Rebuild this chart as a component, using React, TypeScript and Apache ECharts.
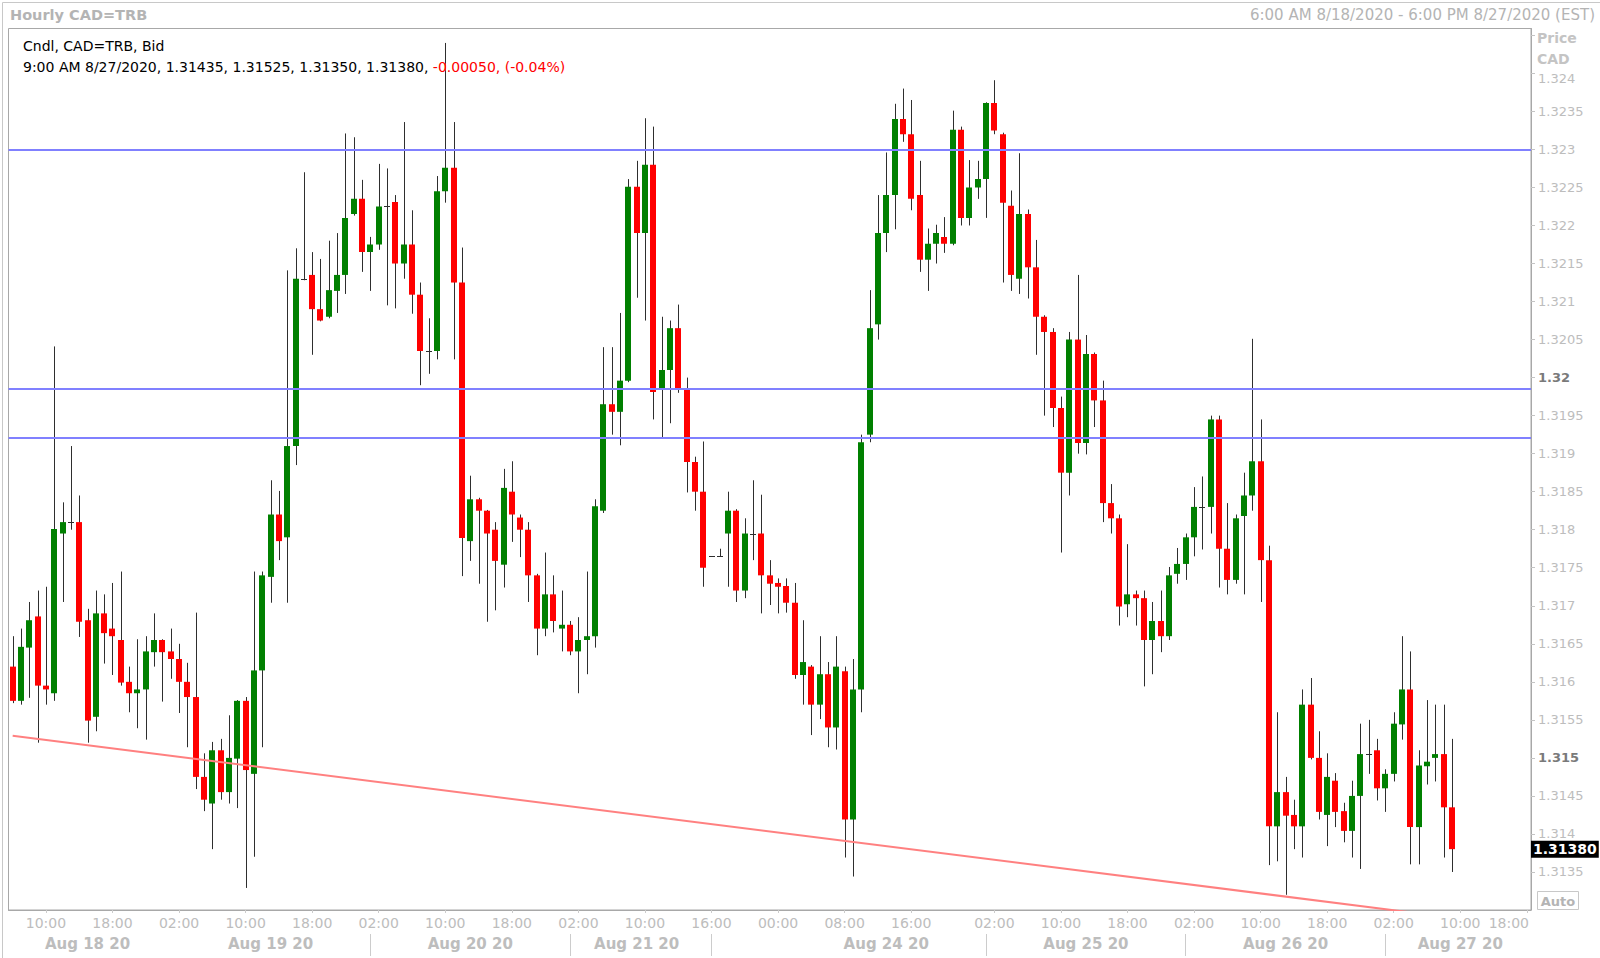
import React, { useEffect, useRef } from "react";
import * as echarts from "echarts";

// ---- data (hourly OHLC, CAD=TRB bid) ----
const opens = [
  1.31620, 1.31575, 1.31645, 1.31686, 1.31595, 1.31585, 1.31795, 1.31810, 1.31810, 1.31681,
  1.31554, 1.31690, 1.31670, 1.31655, 1.31600, 1.31585, 1.31590, 1.31639, 1.31655, 1.31640,
  1.31630, 1.31600, 1.31580, 1.31475, 1.31440, 1.31510, 1.31455, 1.31499, 1.31575, 1.31479,
  1.31615, 1.31738, 1.31820, 1.31790, 1.31910, 1.32130, 1.32135, 1.32090, 1.32080, 1.32114,
  1.32135, 1.32215, 1.32235, 1.32165, 1.32175, 1.32225, 1.32231, 1.32150, 1.32175, 1.32109,
  1.32035, 1.32035, 1.32245, 1.32276, 1.32125, 1.31785, 1.31840, 1.31825, 1.31800, 1.31754,
  1.31850, 1.31816, 1.31800, 1.31740, 1.31670, 1.31715, 1.31670, 1.31675, 1.31640, 1.31655,
  1.31660, 1.31825, 1.31965, 1.31955, 1.31996, 1.32251, 1.32190, 1.32280, 1.31985, 1.32010,
  1.32065, 1.31984, 1.31889, 1.31850, 1.31765, 1.31765, 1.31795, 1.31825, 1.31720, 1.31795,
  1.31795, 1.31740, 1.31730, 1.31726, 1.31704, 1.31609, 1.31620, 1.31570, 1.31610, 1.31540,
  1.31614, 1.31419, 1.31590, 1.31925, 1.32070, 1.32190, 1.32240, 1.32340, 1.32320, 1.32240,
  1.32155, 1.32176, 1.32185, 1.32176, 1.32326, 1.32210, 1.32250, 1.32261, 1.32361, 1.32320,
  1.32226, 1.32130, 1.32215, 1.32145, 1.32080, 1.32060, 1.31960, 1.31875, 1.32050, 1.31914,
  1.32031, 1.31970, 1.31835, 1.31815, 1.31702, 1.31715, 1.31710, 1.31655, 1.31680, 1.31660,
  1.31742, 1.31755, 1.31790, 1.31830, 1.31830, 1.31945, 1.31775, 1.31734, 1.31818, 1.31845,
  1.31890, 1.31760, 1.31410, 1.31455, 1.31425, 1.31410, 1.31570, 1.31500, 1.31425, 1.31470,
  1.31430, 1.31404, 1.31450, 1.31505, 1.31510, 1.31460, 1.31479, 1.31544, 1.31590, 1.31409,
  1.31489, 1.31500, 1.31505, 1.31435,
];
const highs = [
  1.31660, 1.31670, 1.31705, 1.31720, 1.31725, 1.32041, 1.31836, 1.31910, 1.31845, 1.31696,
  1.31720, 1.31715, 1.31730, 1.31745, 1.31620, 1.31656, 1.31660, 1.31690, 1.31656, 1.31670,
  1.31650, 1.31625, 1.31691, 1.31506, 1.31521, 1.31525, 1.31556, 1.31576, 1.31580, 1.31745,
  1.31745, 1.31865, 1.31851, 1.32141, 1.32170, 1.32270, 1.32165, 1.32156, 1.32180, 1.32190,
  1.32321, 1.32316, 1.32260, 1.32185, 1.32281, 1.32275, 1.32240, 1.32336, 1.32220, 1.32125,
  1.32078, 1.32265, 1.32440, 1.32336, 1.32171, 1.31871, 1.31842, 1.31826, 1.31810, 1.31880,
  1.31890, 1.31820, 1.31810, 1.31742, 1.31770, 1.31740, 1.31720, 1.31680, 1.31685, 1.31745,
  1.31840, 1.32040, 1.32040, 1.32085, 1.32261, 1.32285, 1.32341, 1.32330, 1.32080, 1.32075,
  1.32096, 1.32000, 1.31896, 1.31916, 1.31765, 1.31775, 1.31850, 1.31827, 1.31815, 1.31865,
  1.31846, 1.31760, 1.31736, 1.31736, 1.31730, 1.31681, 1.31622, 1.31660, 1.31626, 1.31660,
  1.31620, 1.31630, 1.31925, 1.32115, 1.32240, 1.32296, 1.32360, 1.32380, 1.32365, 1.32285,
  1.32196, 1.32201, 1.32211, 1.32351, 1.32330, 1.32286, 1.32285, 1.32362, 1.32391, 1.32322,
  1.32246, 1.32295, 1.32221, 1.32181, 1.32082, 1.32065, 1.31975, 1.32060, 1.32135, 1.32056,
  1.32033, 1.31996, 1.31860, 1.31820, 1.31781, 1.31720, 1.31720, 1.31705, 1.31720, 1.31751,
  1.31776, 1.31795, 1.31856, 1.31870, 1.31950, 1.31950, 1.31835, 1.31820, 1.31875, 1.32051,
  1.31945, 1.31779, 1.31560, 1.31475, 1.31445, 1.31590, 1.31605, 1.31535, 1.31506, 1.31480,
  1.31441, 1.31470, 1.31545, 1.31550, 1.31525, 1.31485, 1.31560, 1.31660, 1.31640, 1.31510,
  1.31576, 1.31570, 1.31570, 1.31525,
];
const lows = [
  1.31572, 1.31570, 1.31579, 1.31520, 1.31570, 1.31575, 1.31705, 1.31800, 1.31659, 1.31520,
  1.31535, 1.31624, 1.31609, 1.31595, 1.31560, 1.31539, 1.31524, 1.31620, 1.31574, 1.31604,
  1.31559, 1.31514, 1.31459, 1.31430, 1.31380, 1.31445, 1.31440, 1.31434, 1.31329, 1.31370,
  1.31514, 1.31704, 1.31760, 1.31704, 1.31885, 1.32128, 1.32030, 1.32074, 1.32078, 1.32085,
  1.32110, 1.32213, 1.32139, 1.32114, 1.32168, 1.32095, 1.32091, 1.32130, 1.32084, 1.31990,
  1.32005, 1.32024, 1.32230, 1.32024, 1.31739, 1.31759, 1.31729, 1.31679, 1.31694, 1.31724,
  1.31784, 1.31764, 1.31705, 1.31635, 1.31660, 1.31665, 1.31640, 1.31635, 1.31585, 1.31610,
  1.31645, 1.31822, 1.31925, 1.31911, 1.31994, 1.32105, 1.32075, 1.31945, 1.31921, 1.31940,
  1.31980, 1.31849, 1.31825, 1.31725, 1.31765, 1.31765, 1.31725, 1.31705, 1.31710, 1.31760,
  1.31690, 1.31701, 1.31690, 1.31691, 1.31604, 1.31570, 1.31530, 1.31551, 1.31514, 1.31511,
  1.31369, 1.31344, 1.31560, 1.31915, 1.32050, 1.32165, 1.32195, 1.32310, 1.32220, 1.32139,
  1.32114, 1.32150, 1.32164, 1.32174, 1.32200, 1.32200, 1.32235, 1.32210, 1.32320, 1.32125,
  1.32114, 1.32110, 1.32104, 1.32030, 1.31950, 1.31935, 1.31770, 1.31845, 1.31900, 1.31899,
  1.31935, 1.31810, 1.31795, 1.31674, 1.31685, 1.31674, 1.31594, 1.31610, 1.31639, 1.31655,
  1.31729, 1.31734, 1.31765, 1.31774, 1.31795, 1.31724, 1.31715, 1.31729, 1.31715, 1.31825,
  1.31705, 1.31359, 1.31364, 1.31320, 1.31380, 1.31369, 1.31498, 1.31419, 1.31384, 1.31409,
  1.31389, 1.31369, 1.31354, 1.31479, 1.31444, 1.31429, 1.31469, 1.31524, 1.31360, 1.31360,
  1.31465, 1.31469, 1.31369, 1.31350,
];
const closes = [
  1.31575, 1.31646, 1.31681, 1.31595, 1.31590, 1.31801, 1.31810, 1.31810, 1.31679, 1.31549,
  1.31690, 1.31664, 1.31660, 1.31599, 1.31585, 1.31590, 1.31640, 1.31655, 1.31639, 1.31630,
  1.31600, 1.31580, 1.31475, 1.31445, 1.31510, 1.31455, 1.31500, 1.31575, 1.31484, 1.31615,
  1.31740, 1.31820, 1.31785, 1.31910, 1.32130, 1.32130, 1.32090, 1.32075, 1.32115, 1.32135,
  1.32210, 1.32235, 1.32165, 1.32175, 1.32225, 1.32225, 1.32150, 1.32175, 1.32109, 1.32035,
  1.32035, 1.32245, 1.32276, 1.32125, 1.31789, 1.31840, 1.31825, 1.31795, 1.31759, 1.31855,
  1.31820, 1.31800, 1.31740, 1.31670, 1.31715, 1.31680, 1.31675, 1.31640, 1.31655, 1.31660,
  1.31831, 1.31965, 1.31955, 1.31996, 1.32251, 1.32190, 1.32280, 1.31981, 1.32010, 1.32065,
  1.31985, 1.31889, 1.31850, 1.31750, 1.31765, 1.31765, 1.31825, 1.31720, 1.31795, 1.31795,
  1.31740, 1.31729, 1.31725, 1.31704, 1.31609, 1.31626, 1.31570, 1.31610, 1.31540, 1.31620,
  1.31419, 1.31590, 1.31915, 1.32065, 1.32190, 1.32240, 1.32340, 1.32320, 1.32235, 1.32155,
  1.32176, 1.32190, 1.32176, 1.32326, 1.32210, 1.32250, 1.32261, 1.32361, 1.32325, 1.32230,
  1.32135, 1.32215, 1.32145, 1.32080, 1.32060, 1.31960, 1.31875, 1.32050, 1.31914, 1.32031,
  1.31970, 1.31835, 1.31815, 1.31699, 1.31715, 1.31710, 1.31655, 1.31680, 1.31660, 1.31740,
  1.31755, 1.31790, 1.31830, 1.31830, 1.31945, 1.31775, 1.31734, 1.31815, 1.31845, 1.31890,
  1.31760, 1.31410, 1.31455, 1.31424, 1.31410, 1.31570, 1.31500, 1.31429, 1.31475, 1.31429,
  1.31404, 1.31450, 1.31505, 1.31505, 1.31460, 1.31479, 1.31545, 1.31590, 1.31409, 1.31490,
  1.31495, 1.31505, 1.31435, 1.31380,
];

// trading sessions (hourly bars), Aug 18 06:00 -> Aug 21 17:00, Aug 23 16:00 -> Aug 27 18:00
const sessions = [
  { month: "Aug", day: 18, hour: 6, count: 84 },
  { month: "Aug", day: 23, hour: 16, count: 99 },
];
const categories: string[] = [];
sessions.forEach((s) => {
  let d = s.day;
  let h = s.hour;
  for (let k = 0; k < s.count; k++) {
    categories.push(`${s.month} ${d} ${String(h).padStart(2, "0")}:00`);
    h++;
    if (h === 24) {
      h = 0;
      d++;
    }
  }
});

const hourTicks = [
  "Aug 18 10:00", "Aug 18 18:00", "Aug 19 02:00", "Aug 19 10:00", "Aug 19 18:00",
  "Aug 20 02:00", "Aug 20 10:00", "Aug 20 18:00", "Aug 21 02:00", "Aug 21 10:00",
  "Aug 23 16:00", "Aug 24 00:00", "Aug 24 08:00", "Aug 24 16:00", "Aug 25 02:00",
  "Aug 25 10:00", "Aug 25 18:00", "Aug 26 02:00", "Aug 26 10:00", "Aug 26 18:00",
  "Aug 27 02:00", "Aug 27 10:00", "Aug 27 18:00",
];
const dateLabels: [string, string][] = [
  ["Aug 18 15:00", "Aug 18 20"],
  ["Aug 19 13:00", "Aug 19 20"],
  ["Aug 20 13:00", "Aug 20 20"],
  ["Aug 21 09:00", "Aug 21 20"],
  ["Aug 24 13:00", "Aug 24 20"],
  ["Aug 25 13:00", "Aug 25 20"],
  ["Aug 26 13:00", "Aug 26 20"],
  ["Aug 27 10:00", "Aug 27 20"],
];
const daySeparators = [
  "Aug 20 01:00", "Aug 21 01:00", "Aug 23 16:00", "Aug 25 01:00", "Aug 26 01:00", "Aug 27 01:00",
];
const levelLines = [1.323, 1.31985, 1.31921];
const trendPoints: [string, number][] = [
  ["Aug 18 06:00", 1.31529],
  ["Aug 27 09:00", 1.3129],
];
const lastPrice = 1.3138;
const boldTicks = ["1.32", "1.315"];
const hiddenTicks = ["1.3245"];

const FONT = "DejaVu Sans";
const GRAY = "#bdbdbd";

export default function App() {
  const ref = useRef<HTMLDivElement>(null);
  useEffect(() => {
    if (!ref.current) return;
    const chart = echarts.init(ref.current, null, { renderer: "svg" });
    const hourSet = new Set(hourTicks);
    const sepSet = new Set(daySeparators);
    const dateMap = new Map(dateLabels);
    const lastHour = hourTicks[hourTicks.length - 1];

    const candleData = opens.map((o, i) => [i, o, closes[i], lows[i], highs[i]]);

    const renderItem = (params: any, api: any) => {
      const i = api.value(0);
      const o = api.value(1);
      const c = api.value(2);
      const l = api.value(3);
      const h = api.value(4);
      const top = api.coord([i, Math.max(o, c)]);
      const bot = api.coord([i, Math.min(o, c)]);
      const hi = api.coord([i, h]);
      const lo = api.coord([i, l]);
      const band = api.size([1, 0])[0];
      const w = Math.max(2, Math.round(band * 0.78));
      const left = Math.round(top[0] - w / 2);
      const wx = left + Math.floor(w / 2) + 0.5;
      const children: any[] = [
        {
          type: "line",
          shape: { x1: wx, y1: hi[1], x2: wx, y2: lo[1] },
          style: { stroke: "#2e2e2e", lineWidth: 1 },
        },
      ];
      if (o === c) {
        const y = Math.round(top[1]) + 0.5;
        children.push({
          type: "line",
          shape: { x1: left, y1: y, x2: left + w, y2: y },
          style: { stroke: "#2e2e2e", lineWidth: 1 },
        });
      } else {
        children.push({
          type: "rect",
          shape: { x: left, y: top[1], width: w, height: Math.max(1, bot[1] - top[1]) },
          style: { fill: c > o ? "#008000" : "#ff0000" },
        });
      }
      return { type: "group", children };
    };

    chart.setOption({
      animation: false,
      backgroundColor: "#ffffff",
      textStyle: { fontFamily: FONT },
      grid: {
        left: 8.5,
        top: 28.5,
        right: 69,
        bottom: 48,
        show: true,
        borderColor: "#a8a8a8",
        borderWidth: 1,
        backgroundColor: "#ffffff",
      },
      xAxis: [
        {
          type: "category",
          data: categories,
          boundaryGap: true,
          axisLine: { show: true, lineStyle: { color: "#a8a8a8" } },
          axisTick: {
            show: true,
            alignWithLabel: true,
            length: 3,
            interval: (_i: number, v: string) => hourSet.has(v),
            lineStyle: { color: "#cccccc" },
          },
          axisLabel: {
            interval: (_i: number, v: string) => hourSet.has(v),
            formatter: (v: string) => {
              const t = v.slice(-5);
              return v === lastHour ? `{r|${t}}` : t;
            },
            color: GRAY,
            fontSize: 14,
            fontFamily: FONT,
            margin: 6,
            rich: { r: { padding: [0, 36, 0, 0], color: GRAY, fontSize: 14, fontFamily: FONT } },
          },
          splitLine: { show: false },
        },
        {
          type: "category",
          data: categories,
          boundaryGap: true,
          position: "bottom",
          offset: 24,
          axisLine: { show: false },
          axisTick: {
            show: true,
            alignWithLabel: true,
            length: 22,
            interval: (_i: number, v: string) => sepSet.has(v),
            lineStyle: { color: "#cccccc" },
          },
          axisLabel: {
            interval: (_i: number, v: string) => dateMap.has(v),
            formatter: (v: string) => dateMap.get(v) || "",
            color: GRAY,
            fontSize: 15,
            fontWeight: "bold",
            fontFamily: FONT,
            margin: 2,
          },
          splitLine: { show: false },
        },
      ],
      yAxis: {
        type: "value",
        position: "right",
        min: 1.313,
        max: 1.32459,
        interval: 0.0005,
        splitLine: { show: false },
        axisLine: { show: true, lineStyle: { color: "#a8a8a8" } },
        axisTick: { show: true, length: 4, lineStyle: { color: "#c4c4c4" } },
        axisLabel: {
          showMinLabel: false,
          showMaxLabel: false,
          margin: 7,
          fontSize: 13,
          fontFamily: FONT,
          color: GRAY,
          formatter: (v: number) => {
            const s = String(parseFloat(v.toFixed(4)));
            if (hiddenTicks.includes(s)) return "";
            if (boldTicks.includes(s)) return `{b|${s}}`;
            if (s === "1.324") return `{t|${s}}`;
            return s;
          },
          rich: {
            b: { fontWeight: "bold", color: "#7a7a7a", fontSize: 13, fontFamily: FONT },
            t: { padding: [10, 0, 0, 0], color: GRAY, fontSize: 13, fontFamily: FONT },
          },
        },
      },
      series: [
        {
          type: "custom",
          name: "candles",
          xAxisIndex: 0,
          renderItem,
          encode: { x: 0, y: [1, 2, 3, 4] },
          data: candleData,
          clip: true,
          z: 2,
        },
        {
          type: "line",
          name: "trend",
          xAxisIndex: 0,
          data: trendPoints,
          symbol: "none",
          clip: true,
          lineStyle: { color: "#ff8080", width: 2 },
          z: 3,
          silent: true,
          markLine: {
            silent: true,
            symbol: ["none", "none"],
            precision: 5,
            animation: false,
            data: levelLines.map((v) => ({
              yAxis: v,
              lineStyle: { color: "#8080ff", width: 2, type: "solid" },
              label: { show: false },
            })),
          },
        },
        {
          type: "line",
          name: "last",
          xAxisIndex: 0,
          data: [],
          symbol: "none",
          silent: true,
          z: 5,
          markLine: {
            silent: true,
            symbol: ["none", "none"],
            precision: 5,
            animation: false,
            lineStyle: { color: "rgba(0,0,0,0)", width: 1, type: "solid" },
            label: {
              show: true,
              position: "end",
              distance: 0,
              formatter: lastPrice.toFixed(5),
              backgroundColor: "#000000",
              color: "#ffffff",
              fontWeight: "bold",
              fontSize: 14,
              fontFamily: FONT,
              padding: [2, 2, 1, 2],
            },
            data: [{ yAxis: lastPrice }],
          },
        },
      ],
      graphic: [
        {
          type: "rect",
          left: 0,
          top: 0,
          shape: { x: 0.5, y: 0.5, width: 1598, height: 956 },
          style: { fill: "none", stroke: "#c8c8c8", lineWidth: 1 },
          silent: true,
          z: -1,
        },
        {
          type: "text",
          x: 10,
          y: 15,
          style: {
            text: "Hourly CAD=TRB",
            fill: "#b4b4b4",
            font: `bold 14.5px "${FONT}"`,
            verticalAlign: "middle",
          },
        },
        {
          type: "text",
          x: 1595,
          y: 15,
          style: {
            text: "6:00 AM 8/18/2020 - 6:00 PM 8/27/2020 (EST)",
            fill: "#b4b4b4",
            font: `15px "${FONT}"`,
            align: "right",
            verticalAlign: "middle",
          },
        },
        {
          type: "text",
          x: 23,
          y: 46,
          z: 10,
          style: {
            text: "Cndl, CAD=TRB, Bid",
            fill: "#000000",
            font: `14px "${FONT}"`,
            verticalAlign: "middle",
          },
        },
        {
          type: "text",
          x: 23,
          y: 67,
          z: 10,
          style: {
            text: "{k|9:00 AM 8/27/2020, 1.31435, 1.31525, 1.31350, 1.31380, }{r|-0.00050, (-0.04%)}",
            font: `14px "${FONT}"`,
            verticalAlign: "middle",
            rich: {
              k: { fill: "#000000", fontSize: 14, fontFamily: FONT },
              r: { fill: "#ff0000", fontSize: 14, fontFamily: FONT },
            },
          },
        },
        {
          type: "text",
          x: 1537,
          y: 38,
          style: { text: "Price", fill: "#c4c4c4", font: `bold 14px "${FONT}"`, verticalAlign: "middle" },
        },
        {
          type: "text",
          x: 1537,
          y: 59,
          style: { text: "CAD", fill: "#c4c4c4", font: `bold 14px "${FONT}"`, verticalAlign: "middle" },
        },
        {
          type: "rect",
          shape: { x: 1537.5, y: 891.5, width: 41, height: 18 },
          style: { fill: "#ffffff", stroke: "#c8c8c8", lineWidth: 1 },
        },
        {
          type: "text",
          x: 1558,
          y: 901,
          style: {
            text: "Auto",
            fill: "#b4b4b4",
            font: `bold 13px "${FONT}"`,
            align: "center",
            verticalAlign: "middle",
          },
        },
      ],
    });
    return () => chart.dispose();
  }, []);
  return (
    <div
      ref={ref}
      style={{ position: "absolute", left: 0, top: 0, width: 1600, height: 958, background: "#fff" }}
    />
  );
}
